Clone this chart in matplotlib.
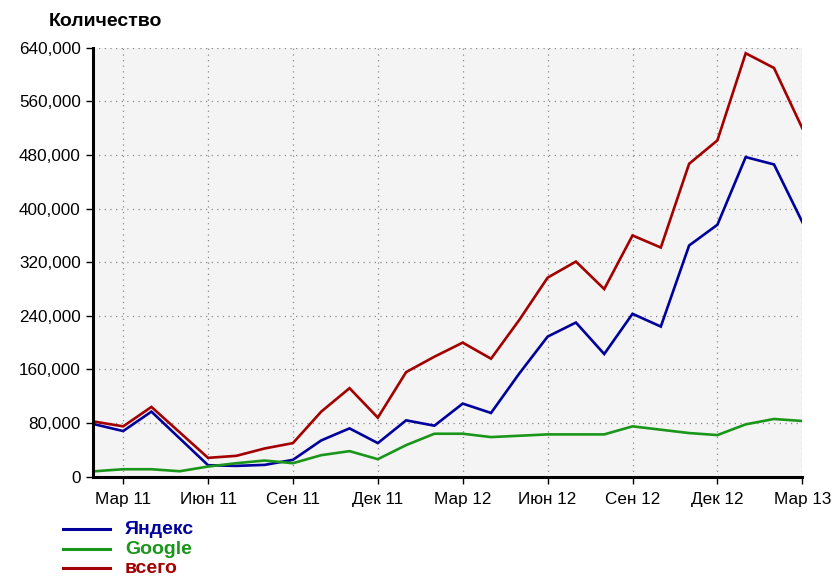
import numpy as np
import matplotlib
matplotlib.use("Agg")
import matplotlib.pyplot as plt
from matplotlib.ticker import FuncFormatter

plt.rcParams['font.family'] = ['Liberation Sans', 'DejaVu Sans']

# monthly points, Feb 2011 .. Mar 2013
months = list(range(26))
tick_pos = [1, 4, 7, 10, 13, 16, 19, 22, 25]
tick_labels = ["Мар 11", "Июн 11", "Сен 11", "Дек 11", "Мар 12",
               "Июн 12", "Сен 12", "Дек 12", "Мар 13"]

yandex = [78000, 68000, 97000, 57000, 17000, 16000, 17500, 25000, 54000,
          72000, 50000, 84000, 76000, 109000, 95000, 154000, 209000, 230000,
          183000, 243000, 224000, 345000, 376000, 477000, 466000, 380000]
google = [8000, 11000, 11000, 8000, 15000, 20000, 24000, 20000, 32000,
          38000, 26000, 47000, 64000, 64000, 59000, 61000, 63000, 63000,
          63000, 75000, 70000, 65000, 62000, 78000, 86000, 83000]
total = [82000, 75000, 104000, 66000, 28000, 31000, 42000, 50000, 97000,
         132000, 88000, 156000, 179000, 200000, 176000, 234000, 297000, 321000,
         280000, 360000, 342000, 467000, 502000, 632000, 610000, 520000]

series = [("Яндекс", yandex, "#00009c"),
          ("Google", google, "#1a961a"),
          ("всего", total, "#a30000")]

fig = plt.figure(figsize=(8.34, 5.77), dpi=100)
ax = fig.add_axes([0.111, 0.174, 0.851, 0.743])
ax.set_facecolor("#f4f4f4")

handles = []
for name, vals, col in series:
    h, = ax.plot(months, vals, color=col, lw=1.9, solid_joinstyle="miter")
    handles.append((h, name, col))

ax.set_xlim(-0.08, 25)
ax.set_ylim(0, 640000)
ax.set_yticks(np.arange(0, 640001, 80000))
ax.yaxis.set_major_formatter(FuncFormatter(lambda v, p: f"{int(v):,}"))
ax.set_xticks(tick_pos)
ax.set_xticklabels(tick_labels)

ax.grid(True, color="#8a8a8a", linestyle=(0, (1, 3.5)), lw=0.9)
ax.set_axisbelow(True)
ax.spines['top'].set_visible(False)
ax.spines['right'].set_visible(False)
ax.spines['left'].set_linewidth(2.2)
ax.spines['bottom'].set_linewidth(2.2)
ax.tick_params(direction="out", length=5, width=1, labelsize=12.3, colors="black")
ax.tick_params(axis="x", pad=6)

fig.text(0.059, 0.963, "Количество", fontsize=14, fontweight="bold",
         va="center", ha="left")

# legend below the plot
ys = [0.083, 0.048, 0.015]
for (h, name, col), y in zip(handles, ys):
    fig.add_artist(plt.Line2D([0.075, 0.132], [y, y], color=col, lw=2.2,
                              transform=fig.transFigure))
    fig.text(0.150, y, name, color=col, fontsize=14, fontweight="bold",
             va="center", ha="left")

fig.savefig("out.png", dpi=100)
